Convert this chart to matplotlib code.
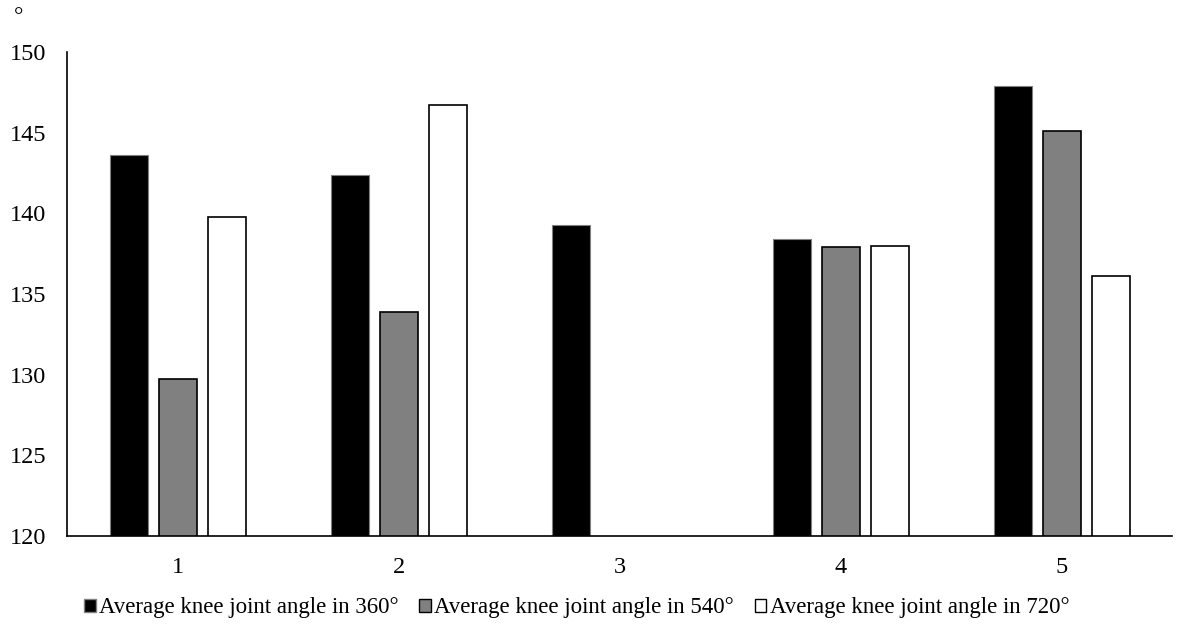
import numpy as np
import matplotlib.pyplot as plt
from matplotlib.patches import Patch

plt.rcParams['font.family'] = ['Liberation Serif', 'DejaVu Serif']

categories = ['1', '2', '3', '4', '5']
angle_360 = [143.6, 142.4, 139.3, 138.4, 147.9]
angle_540 = [129.7, 133.9, np.nan, 137.9, 145.1]
angle_720 = [139.8, 146.7, np.nan, 138.0, 136.1]
series_names = ['Average knee joint angle in 360°',
                'Average knee joint angle in 540°',
                'Average knee joint angle in 720°']

fig = plt.figure(figsize=(11.77, 6.35), dpi=100)
ax = fig.add_axes([0.057, 0.156, 0.939, 0.762])

x = np.arange(len(categories))
w = 0.172
step = 0.222
ax.bar(x - step, angle_360, w, color='black', edgecolor='#808080', linewidth=0.8)
ax.bar(x, angle_540, w, color='#808080', edgecolor='black', linewidth=1.2)
ax.bar(x + step, angle_720, w, color='white', edgecolor='black', linewidth=1.2)

ax.set_ylim(120, 150)
ax.set_xlim(-0.5, 4.5)
ax.set_yticks(range(120, 151, 5))
ax.set_xticks(x)
ax.set_xticklabels(categories)
ax.tick_params(axis='both', length=0, labelsize=17.5)
ax.tick_params(axis='x', pad=15)
ax.tick_params(axis='y', pad=15)
for s in ['top', 'right']:
    ax.spines[s].set_visible(False)
ax.spines['left'].set_linewidth(1.2)
ax.spines['bottom'].set_linewidth(1.2)

fig.text(0.012, 0.972, '°', fontsize=17, ha='left', va='center')

handles = [Patch(facecolor='black', edgecolor='#808080'),
           Patch(facecolor='#808080', edgecolor='black'),
           Patch(facecolor='white', edgecolor='black')]
fig.legend(handles, series_names, loc='center', bbox_to_anchor=(0.49, 0.043),
           ncol=3, frameon=False, fontsize=16.5, handlelength=0.5, handleheight=0.5,
           handletextpad=0.15, columnspacing=0.9)

fig.savefig('out.png', dpi=100)
